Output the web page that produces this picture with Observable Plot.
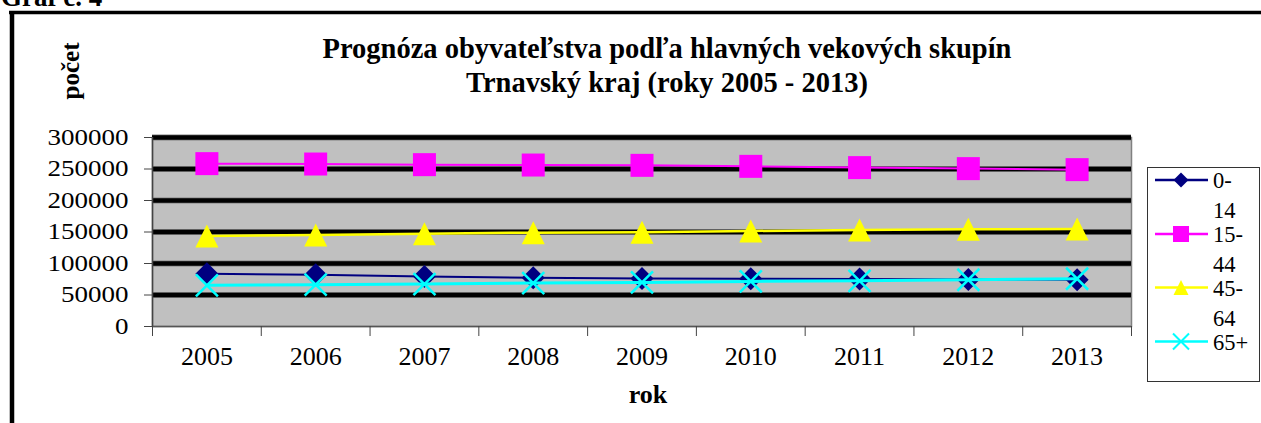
<!DOCTYPE html>
<html><head><meta charset="utf-8">
<script src="https://cdn.jsdelivr.net/npm/d3@7"></script>
<script src="https://cdn.jsdelivr.net/npm/@observablehq/plot@0.6"></script>
<style>body{margin:0;background:#fff} svg{display:block} svg text{font-family:"Liberation Serif","Times New Roman",Tinos,"DejaVu Serif",serif !important}</style>
</head><body><div id="chart"></div>
<script>
// ---- data ----
const years = [2005, 2006, 2007, 2008, 2009, 2010, 2011, 2012, 2013];
const seriesNames = ["0-14", "15-44", "45-64", "65+"];
const age0_14  = [83700, 82100, 79500, 77400, 76300, 75800, 75200, 74600, 74200];
const age15_44 = [258500, 257900, 256900, 256300, 255800, 254200, 252200, 250600, 249000];
const age45_64 = [143700, 145300, 147400, 149000, 149500, 151600, 153200, 154200, 154700];
const age65    = [65300, 66300, 67400, 69000, 70000, 71600, 72600, 74200, 75800];
const yTicks = [0, 50000, 100000, 150000, 200000, 250000, 300000];
const legendLabels = [["0-", "14"], ["15-", "44"], ["45-", "64"], ["65+"]];
const titleLines = ["Prognóza obyvateľstva podľa hlavných vekových skupín", "Trnavský kraj (roky 2005 - 2013)"];
const graphLabel = "Graf č. 4";
const yLabel = "počet";
const xLabel = "rok";

const values = [age0_14, age15_44, age45_64, age65];
const colors = ["#000080", "#ff00ff", "#ffff00", "#00ffff"];

// ---- symbols (half-size h = sqrt(size)/2) ----
const diamond = {draw(c, s) {const h = Math.sqrt(s) / 2; c.moveTo(0, -h); c.lineTo(h, 0); c.lineTo(0, h); c.lineTo(-h, 0); c.closePath();}};
const square = {draw(c, s) {const h = Math.sqrt(s) / 2; c.rect(-h, -h, 2 * h, 2 * h);}};
const triangle = {draw(c, s) {const h = Math.sqrt(s) / 2; c.moveTo(0, -h); c.lineTo(h, h); c.lineTo(-h, h); c.closePath();}};
const cross = {draw(c, s) {const h = Math.sqrt(s) / 2; c.moveTo(-h, -h); c.lineTo(h, h); c.moveTo(h, -h); c.lineTo(-h, h);}};
const symbols = [diamond, square, triangle, cross];
const halfSizes = [11.5, 11.5, 11.5, 11];
const rFor = h => 2 * h / Math.sqrt(Math.PI);
const lineWidths = [2, 2, 2.5, 3];

const rows = years.flatMap((yr, i) => seriesNames.map((s, k) => ({year: yr, series: s, k, value: values[k][i]})));
const bounds = d3.range(years.length + 1).map(i => years[0] - 0.5 + i);

const seriesMarks = seriesNames.flatMap((s, k) => {
  const d = rows.filter(r => r.k === k);
  const isCross = symbols[k] === cross;
  return [
    Plot.line(d, {x: "year", y: "value", stroke: colors[k], strokeWidth: lineWidths[k]}),
    Plot.dot(d, {x: "year", y: "value", symbol: symbols[k], r: rFor(halfSizes[k]),
      fill: isCross ? "none" : colors[k], stroke: isCross ? colors[k] : "none", strokeWidth: isCross ? 2.5 : 0})
  ];
});

const font = "Liberation Serif";
const chart = Plot.plot({
  width: 1261, height: 423,
  marginLeft: 152, marginRight: 130, marginTop: 137, marginBottom: 97,
  style: {fontFamily: font, fontSize: "24px", background: "#fff", color: "#000"},
  x: {type: "linear", domain: [bounds[0], bounds[bounds.length - 1]], axis: null},
  y: {domain: [0, 300000], axis: null},
  marks: [
    Plot.frame({fill: "#c0c0c0", stroke: "#808080", strokeWidth: 1.5}),
    Plot.ruleY(yTicks.filter(v => v > 0), {stroke: "#808080", strokeWidth: 6}),
    Plot.ruleY(yTicks.filter(v => v > 0), {stroke: "#000", strokeWidth: 4.3}),
    Plot.ruleY([0], {stroke: "#555", strokeWidth: 1.5}),
    Plot.ruleX([bounds[0]], {stroke: "#444", strokeWidth: 1.5}),
    Plot.axisY(yTicks, {anchor: "left", tickSize: 8, tickPadding: 16, tickFormat: d => String(d), stroke: "#444", label: null, fontSize: 23}),
    Plot.axisX(bounds, {anchor: "bottom", tickSize: 10, tickFormat: () => "", stroke: "#444", label: null}),
    Plot.axisX(years, {anchor: "bottom", tickSize: 0, tickPadding: 20, tickFormat: d => String(d), label: null, fontSize: 26}),
    ...seriesMarks
  ]
});
document.getElementById("chart").appendChild(chart);

// widen the y tick labels like the reference (wide digits)
d3.select(chart).selectAll('g[aria-label="y-axis tick label"] text').each(function() {
  const t = this.textContent;
  if (t.length) d3.select(this).attr("textLength", t.length * 13.5).attr("lengthAdjust", "spacingAndGlyphs");
});

// ---- decorations: frame, titles, axis labels, legend ----
const svg = d3.select(chart);
svg.append("line").attr("x1", 9).attr("x2", 1261).attr("y1", 12.5).attr("y2", 12.5).attr("stroke", "#000").attr("stroke-width", 3.5);
svg.append("line").attr("x1", 12).attr("x2", 12).attr("y1", 11).attr("y2", 423).attr("stroke", "#000").attr("stroke-width", 4.5);
svg.append("text").attr("x", 1).attr("y", 6).attr("text-anchor", "start").attr("font-weight", "bold").attr("font-size", 27).text(graphLabel);
titleLines.forEach((t, i) => {
  svg.append("text").attr("x", 667).attr("y", 58 + i * 34).attr("text-anchor", "middle")
    .attr("font-weight", "bold").attr("font-size", 28.5).text(t);
});
svg.append("text").attr("transform", "translate(79,71) rotate(-90)").attr("text-anchor", "middle")
  .attr("font-weight", "bold").attr("font-size", 25).text(yLabel);
svg.append("text").attr("x", 648).attr("y", 403).attr("text-anchor", "middle")
  .attr("font-weight", "bold").attr("font-size", 26).text(xLabel);

const lg = svg.append("g");
lg.append("rect").attr("x", 1147.5).attr("y", 167.5).attr("width", 112).attr("height", 214)
  .attr("fill", "#fff").attr("stroke", "#333").attr("stroke-width", 1);
const entryY = [180, 234, 287.5, 341.5];
const legendHalf = [7.5, 8, 7.5, 8];
legendLabels.forEach((lines, k) => {
  const y = entryY[k];
  lg.append("line").attr("x1", 1155).attr("x2", 1208).attr("y1", y).attr("y2", y)
    .attr("stroke", colors[k]).attr("stroke-width", 2.5);
  const p = d3.path();
  symbols[k].draw(p, (2 * legendHalf[k]) ** 2);
  const isCross = symbols[k] === cross;
  lg.append("path").attr("d", p.toString()).attr("transform", `translate(1181,${y})`)
    .attr("fill", isCross ? "none" : colors[k]).attr("stroke", isCross ? colors[k] : "none").attr("stroke-width", 2);
  lines.forEach((t, j) => {
    lg.append("text").attr("x", 1213).attr("y", y + 8 + j * 30).attr("text-anchor", "start").attr("font-size", 22.5).text(t);
  });
});
</script></body></html>
